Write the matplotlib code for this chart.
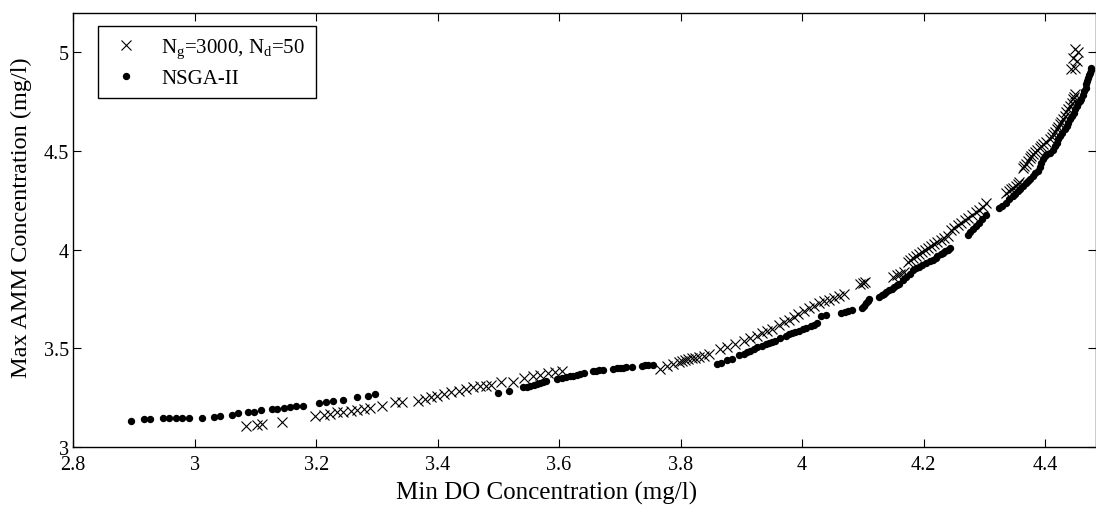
#!/usr/bin/env python3
"""
Pareto fronts: minimum DO vs. maximum AMM concentration.
"""

import matplotlib
matplotlib.use("Agg")
import matplotlib.pyplot as plt

# Pareto front from the run with N_g=3000, N_d=50
ng_do = [3.084, 3.103, 3.111, 3.144, 3.198, 3.213, 3.223, 3.235, 3.245, 3.257,
         3.268, 3.279, 3.289, 3.309, 3.329, 3.341, 3.367, 3.379, 3.389, 3.399,
         3.411, 3.422, 3.436, 3.447, 3.458, 3.469, 3.480, 3.488, 3.505, 3.524,
         3.543, 3.557, 3.568, 3.582, 3.593, 3.604,
         3.766, 3.777, 3.788, 3.797, 3.802, 3.808, 3.813, 3.819, 3.824, 3.830,
         3.838, 3.846, 3.865, 3.876, 3.890, 3.904, 3.915, 3.926, 3.934, 3.943,
         3.951, 3.962, 3.970, 3.978, 3.986, 3.994, 4.003, 4.011, 4.020, 4.028,
         4.036, 4.044, 4.053, 4.061, 4.069, 4.096, 4.100, 4.103,
         4.150, 4.156, 4.162, 4.168, 4.174, 4.178, 4.183, 4.188, 4.193, 4.198,
         4.203, 4.208, 4.213, 4.218, 4.223, 4.229, 4.234, 4.240, 4.246, 4.251,
         4.256, 4.262, 4.268, 4.274, 4.280, 4.286, 4.292, 4.298, 4.303,
         4.336, 4.340, 4.344, 4.348, 4.353, 4.356, 4.358, 4.364, 4.366, 4.369,
         4.372, 4.375, 4.377, 4.380, 4.383, 4.387, 4.391, 4.394, 4.397, 4.402,
         4.408, 4.411, 4.413, 4.416, 4.419, 4.422, 4.424, 4.427, 4.430, 4.433,
         4.435, 4.438, 4.441, 4.444, 4.446, 4.448, 4.449,
         4.443, 4.449, 4.446, 4.452, 4.454, 4.449]
ng_amm = [3.108, 3.111, 3.115, 3.128, 3.155, 3.162, 3.167, 3.176, 3.179, 3.182,
          3.187, 3.192, 3.198, 3.209, 3.226, 3.229, 3.235, 3.243, 3.252, 3.260,
          3.268, 3.277, 3.285, 3.294, 3.302, 3.307, 3.311, 3.316, 3.328, 3.331,
          3.348, 3.358, 3.365, 3.375, 3.381, 3.387,
          3.395, 3.409, 3.420, 3.429, 3.436, 3.442, 3.446, 3.449, 3.452, 3.457,
          3.463, 3.471, 3.496, 3.505, 3.522, 3.539, 3.551, 3.564, 3.578, 3.589,
          3.598, 3.620, 3.633, 3.645, 3.660, 3.672, 3.688, 3.703, 3.715, 3.728,
          3.738, 3.747, 3.756, 3.768, 3.778, 3.824, 3.830, 3.835,
          3.862, 3.870, 3.879, 3.888, 3.940, 3.950, 3.960, 3.968, 3.978, 3.988,
          3.998, 4.008, 4.018, 4.028, 4.038, 4.050, 4.060, 4.072, 4.100, 4.112,
          4.124, 4.137, 4.150, 4.163, 4.176, 4.190, 4.203, 4.218, 4.235,
          4.290, 4.298, 4.307, 4.315, 4.324, 4.333, 4.341, 4.415, 4.425, 4.437,
          4.450, 4.463, 4.476, 4.485, 4.493, 4.505, 4.518, 4.527, 4.535, 4.547,
          4.560, 4.573, 4.586, 4.598, 4.611, 4.623, 4.636, 4.649, 4.662, 4.679,
          4.696, 4.712, 4.729, 4.746, 4.763, 4.776, 4.788,
          4.915, 4.923, 4.974, 4.957, 5.000, 5.016]

# Pareto front from NSGA-II
nsga_do = [2.895, 2.917, 2.926, 2.948, 2.957, 2.970, 2.979, 2.991, 3.012, 3.031,
           3.041, 3.061, 3.072, 3.088, 3.097, 3.109, 3.128, 3.136, 3.147, 3.157,
           3.166, 3.178, 3.205, 3.216, 3.227, 3.245, 3.267, 3.286, 3.297,
           3.499, 3.517, 3.541, 3.547, 3.552, 3.558, 3.563, 3.568, 3.574, 3.579,
           3.596, 3.604, 3.612, 3.618, 3.623, 3.629, 3.634, 3.641, 3.656, 3.661,
           3.665, 3.673, 3.689, 3.695, 3.700, 3.705, 3.710, 3.720, 3.736, 3.742,
           3.747, 3.755,
           3.860, 3.866, 3.876, 3.885, 3.896, 3.904, 3.910, 3.915, 3.921, 3.926,
           3.934, 3.940, 3.945, 3.951, 3.956, 3.964, 3.973, 3.978, 3.984, 3.989,
           3.995, 4.001, 4.006, 4.014, 4.020, 4.025, 4.031, 4.039, 4.064, 4.070,
           4.075, 4.083, 4.099, 4.102, 4.105, 4.108, 4.110, 4.127, 4.131, 4.135,
           4.139, 4.143, 4.148, 4.152, 4.156, 4.160, 4.166, 4.171, 4.177, 4.182,
           4.188, 4.193, 4.198, 4.204, 4.210, 4.215, 4.220, 4.223, 4.228, 4.232,
           4.236, 4.240, 4.244,
           4.273, 4.277, 4.281, 4.286, 4.292, 4.297, 4.303,
           4.325, 4.330, 4.336, 4.341, 4.347, 4.351, 4.355, 4.359, 4.363, 4.368,
           4.372, 4.376, 4.380, 4.384, 4.388, 4.391, 4.394, 4.397, 4.400, 4.404,
           4.408, 4.413, 4.416, 4.419, 4.422, 4.424, 4.428, 4.433, 4.436, 4.438,
           4.441, 4.444, 4.447, 4.449, 4.452, 4.454, 4.458, 4.460, 4.463, 4.465,
           4.467, 4.468, 4.470, 4.471, 4.473, 4.474, 4.475, 4.476]
nsga_amm = [3.133, 3.140, 3.140, 3.145, 3.145, 3.145, 3.145, 3.145, 3.148, 3.152,
            3.157, 3.164, 3.172, 3.176, 3.179, 3.186, 3.193, 3.193, 3.198, 3.203,
            3.209, 3.209, 3.221, 3.228, 3.235, 3.240, 3.253, 3.260, 3.268,
            3.272, 3.282, 3.302, 3.306, 3.311, 3.315, 3.319, 3.323, 3.328, 3.333,
            3.344, 3.350, 3.356, 3.359, 3.361, 3.366, 3.370, 3.375, 3.385, 3.387,
            3.388, 3.390, 3.396, 3.398, 3.400, 3.402, 3.404, 3.408, 3.412, 3.414,
            3.415, 3.416,
            3.419, 3.428, 3.441, 3.446, 3.466, 3.471, 3.480, 3.488, 3.497, 3.505,
            3.513, 3.520, 3.527, 3.533, 3.539, 3.551, 3.564, 3.572, 3.578, 3.584,
            3.589, 3.596, 3.601, 3.612, 3.620, 3.628, 3.665, 3.668, 3.677, 3.682,
            3.688, 3.695, 3.703, 3.715, 3.728, 3.740, 3.750, 3.762, 3.770, 3.778,
            3.786, 3.794, 3.802, 3.810, 3.819, 3.828, 3.845, 3.860, 3.878, 3.895,
            3.905, 3.915, 3.925, 3.933, 3.942, 3.950, 3.960, 3.967, 3.976, 3.984,
            3.993, 4.001, 4.010,
            4.075, 4.090, 4.104, 4.120, 4.138, 4.155, 4.175,
            4.210, 4.222, 4.238, 4.255, 4.272, 4.285, 4.298, 4.310, 4.323, 4.336,
            4.349, 4.361, 4.374, 4.387, 4.400, 4.420, 4.440, 4.458, 4.474, 4.484,
            4.492, 4.508, 4.525, 4.542, 4.560, 4.576, 4.594, 4.611, 4.628, 4.645,
            4.662, 4.678, 4.695, 4.712, 4.729, 4.745, 4.755, 4.763, 4.785, 4.805,
            4.822, 4.839, 4.856, 4.873, 4.888, 4.898, 4.912, 4.923]

x_ticks = [2.8, 3.0, 3.2, 3.4, 3.6, 3.8, 4.0, 4.2, 4.4]
x_tick_labels = ["2.8", "3", "3.2", "3.4", "3.6", "3.8", "4", "4.2", "4.4"]
y_ticks = [3.0, 3.5, 4.0, 4.5, 5.0]
y_tick_labels = ["3", "3.5", "4", "4.5", "5"]

plt.rcParams["font.family"] = ["Liberation Serif", "DejaVu Serif"]
plt.rcParams["mathtext.fontset"] = "custom"
plt.rcParams["mathtext.rm"] = "Liberation Serif"
plt.rcParams["mathtext.it"] = "Liberation Serif:italic"

fig = plt.figure(figsize=(10.96, 5.06), dpi=100)
ax = fig.add_axes([0.0668, 0.1146, 0.9332, 0.8577])

ax.plot(ng_do, ng_amm, linestyle="none", marker="x", color="black",
        markersize=7.5, markeredgewidth=0.8,
        label=r"N$_{\mathrm{g}}$=3000, N$_{\mathrm{d}}$=50")
ax.plot(nsga_do, nsga_amm, linestyle="none", marker="o", color="black",
        markersize=5.3, markeredgewidth=0, label="NSGA-II")

ax.set_xlim(2.8, 4.484)
ax.set_ylim(3.0, 5.2)
ax.set_xticks(x_ticks)
ax.set_xticklabels(x_tick_labels)
ax.set_yticks(y_ticks)
ax.set_yticklabels(y_tick_labels)
ax.tick_params(direction="in", top=True, right=True, length=6, width=0.8,
               labelsize=14.5, pad=3)
ax.tick_params(axis="x", pad=6)
for spine in ax.spines.values():
    spine.set_linewidth(1.0)

ax.set_xlabel("Min DO Concentration (mg/l)", fontsize=18, labelpad=0)
ax.xaxis.set_label_coords(0.463, -0.078)
ax.set_ylabel("Max AMM Concentration (mg/l)", fontsize=17.5, labelpad=4)
ax.yaxis.set_label_coords(-0.040, 0.53)

leg = ax.legend(loc="upper left", bbox_to_anchor=(0.024, 0.970),
                borderaxespad=0, fancybox=False, framealpha=1,
                edgecolor="black", fontsize=15, handletextpad=0.8,
                borderpad=0.5, labelspacing=0.4, handlelength=1.75)
leg.get_frame().set_linewidth(1.0)

fig.savefig("out.png", dpi=100)
